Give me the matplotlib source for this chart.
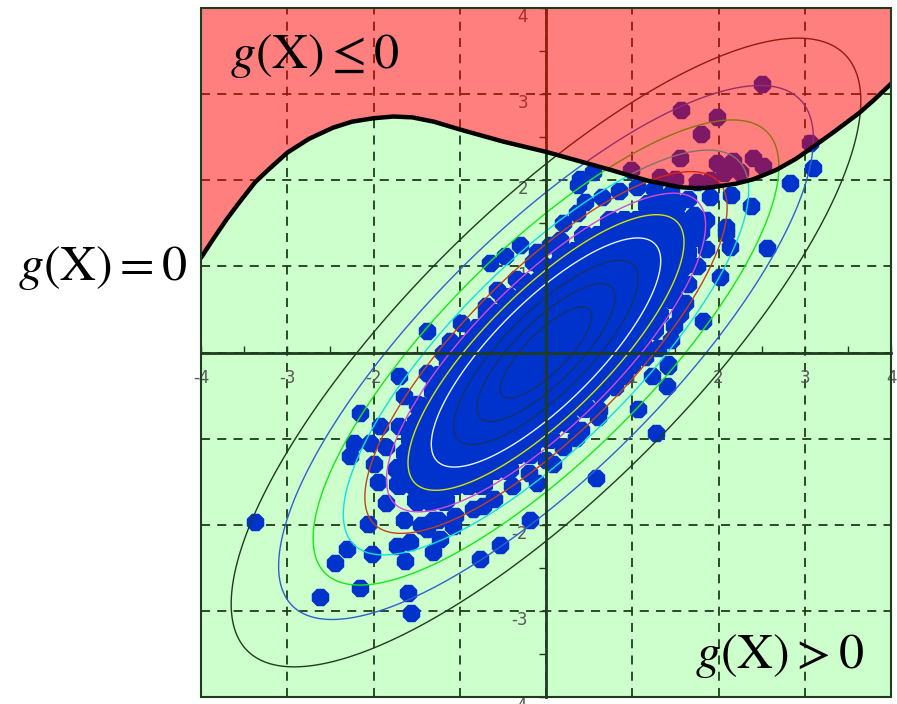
import numpy as np
import matplotlib
matplotlib.use('Agg')
import matplotlib.pyplot as plt
from matplotlib.patches import Rectangle

plt.rcParams['mathtext.fontset'] = 'stix'
plt.rcParams['axes.unicode_minus'] = False

# --- limit state curve g(X) = 0 ---
curve_x = [-4.0, -3.85, -3.7, -3.55, -3.37, -3.2, -3.0, -2.75, -2.47, -2.25, -2.0,
           -1.77, -1.55, -1.3, -1.0, -0.75, -0.5, -0.25, 0.0, 0.25, 0.5, 0.75,
           1.02, 1.2, 1.4, 1.55, 1.71, 1.85, 2.0, 2.2, 2.4, 2.67, 2.9, 3.1,
           3.35, 3.63, 3.8, 4.0]
curve_y = [1.10, 1.33, 1.55, 1.75, 1.98, 2.14, 2.32, 2.48, 2.61, 2.68, 2.72,
           2.74, 2.73, 2.68, 2.59, 2.52, 2.45, 2.39, 2.33, 2.26, 2.19, 2.12,
           2.04, 1.99, 1.95, 1.92, 1.91, 1.91, 1.93, 1.96, 2.01, 2.12, 2.25, 2.39,
           2.57, 2.78, 2.93, 3.12]

# --- density contours (correlated normal, levels as radius) ---
rho = 0.8
contour_r = [0.53, 0.8, 1.07, 1.33, 1.6, 1.85, 2.1, 2.35, 2.7, 3.1, 3.65]
contour_colors = ['#14306a', '#14306a', '#14306a', '#e8f4ff', '#d8e400', '#d848d8',
                  '#c8401c', '#10e0e0', '#18e818', '#3060d0', '#1e3c1e']

# --- sample points ---
# points in the failure region (top right)
pts_top = [(2.51, 3.12), (1.57, 2.82), (1.98, 2.74), (1.80, 2.54), (1.55, 2.26),
           (3.06, 2.43), (1.98, 2.20), (2.17, 2.22), (2.40, 2.26), (2.52, 2.16),
           (2.06, 2.08), (2.25, 2.10), (0.99, 2.12), (1.32, 2.04), (1.50, 2.02),
           (1.75, 1.98), (1.90, 2.00)]
# scattered points around the blob
pts_right = [(3.10, 2.14), (2.83, 1.97), (2.38, 1.70), (2.15, 1.83), (2.56, 1.21),
             (2.09, 1.39), (2.13, 1.23), (2.09, 1.46), (1.90, 1.81), (1.86, 1.54),
             (0.39, 2.01), (0.36, 1.62), (0.55, 2.09), (0.16, 1.31), (0.37, 1.95),
             (2.02, 0.88), (1.82, 0.36), (1.61, 0.58), (1.42, -0.16), (1.23, -0.27),
             (1.40, -0.39), (0.90, -0.27), (1.07, -0.66), (1.28, -0.93), (1.41, -0.13),
             (0.58, -1.46), (0.08, -1.29), (0.35, -0.99), (0.62, -0.67), (-0.19, -1.94),
             (-0.11, -1.51), (-0.73, -1.78), (1.48, 0.31)]
pts_left = [(-1.38, 0.25), (-0.98, 0.34), (-1.11, 0.13), (-0.65, 1.04), (-0.48, 1.12),
            (-0.30, 1.25), (-0.11, 1.17), (-0.69, 0.54), (-0.57, 0.73), (-1.19, 0.0),
            (-3.37, -1.97), (-2.62, -2.84), (-2.16, -2.73), (-1.60, -2.79), (-1.56, -3.02),
            (-2.45, -2.44), (-2.31, -2.28), (-2.02, -2.34), (-1.73, -2.25), (-1.63, -2.42),
            (-2.06, -1.99), (-1.58, -2.20), (-1.31, -2.32), (-2.16, -0.70), (-2.27, -1.20),
            (-2.23, -1.05), (-2.04, -1.05), (-1.71, -0.27), (-1.38, -0.24), (-1.65, -0.51),
            (-1.92, -0.85), (-1.38, -2.05), (-1.23, -2.17), (-0.77, -2.40), (-0.53, -2.23),
            (-1.08, -2.01), (-1.31, -1.94)]
# outer edge of the dense blob
blob_edge = [(0.20, 1.50), (0.45, 1.75), (0.65, 1.80), (0.85, 1.88), (1.05, 1.92),
             (1.25, 1.90), (1.45, 1.85), (1.65, 1.78), (1.72, 1.60), (1.80, 1.40),
             (1.85, 1.20), (1.75, 1.00), (1.65, 0.80), (1.55, 0.45), (1.45, 0.15),
             (1.30, 0.05), (1.15, -0.05), (1.00, -0.15), (0.80, -0.40), (0.60, -0.75),
             (0.40, -0.90), (0.20, -1.10), (0.00, -1.25), (-0.20, -1.40), (-0.40, -1.55),
             (-0.60, -1.70), (-0.85, -1.82), (-1.05, -1.90), (-1.25, -1.95), (-1.45, -2.00),
             (-1.65, -1.95), (-1.85, -1.75), (-1.95, -1.50), (-2.00, -1.30), (-1.85, -1.10),
             (-1.70, -0.85), (-1.50, -0.60), (-1.30, -0.35), (-1.15, -0.15), (-1.00, 0.05),
             (-0.85, 0.25), (-0.70, 0.45), (-0.50, 0.65), (-0.35, 0.85), (-0.15, 1.05),
             (0.05, 1.25)]
# dense core, row by row (y, x values)
blob_rows = [
    (1.71, [1.18, 1.34, 1.50]),
    (1.53, [0.74, 0.90, 1.06, 1.22, 1.38, 1.54, 1.70]),
    (1.35, [0.44, 0.60, 0.76, 0.92, 1.08, 1.24, 1.40, 1.56, 1.72]),
    (1.17, [0.18, 0.34, 0.50, 0.66, 0.82, 0.98, 1.14, 1.30, 1.46, 1.62]),
    (0.99, [-0.04, 0.12, 0.28, 0.44, 0.60, 0.76, 0.92, 1.08, 1.24, 1.40, 1.56]),
    (0.81, [-0.26, -0.10, 0.06, 0.22, 0.38, 0.54, 0.70, 0.86, 1.02, 1.18, 1.34, 1.50]),
    (0.63, [-0.44, -0.28, -0.12, 0.04, 0.20, 0.36, 0.52, 0.68, 0.84, 1.00, 1.16, 1.32, 1.46]),
    (0.45, [-0.62, -0.46, -0.30, -0.14, 0.02, 0.18, 0.34, 0.50, 0.66, 0.82, 0.98, 1.14, 1.30]),
    (0.27, [-0.80, -0.64, -0.48, -0.32, -0.16, 0.00, 0.16, 0.32, 0.48, 0.64, 0.80, 0.96,
            1.12, 1.24]),
    (0.09, [-0.94, -0.78, -0.62, -0.46, -0.30, -0.14, 0.02, 0.18, 0.34, 0.50, 0.66, 0.82,
            0.98, 1.10]),
    (-0.09, [-1.10, -0.98, -0.82, -0.66, -0.50, -0.34, -0.18, -0.02, 0.14, 0.30, 0.46,
             0.62, 0.78, 0.94]),
    (-0.27, [-1.24, -1.12, -0.96, -0.80, -0.64, -0.48, -0.32, -0.16, 0.00, 0.16, 0.32,
             0.48, 0.64, 0.80]),
    (-0.45, [-1.30, -1.14, -0.98, -0.82, -0.66, -0.50, -0.34, -0.18, -0.02, 0.14, 0.30,
             0.46, 0.62]),
    (-0.63, [-1.46, -1.32, -1.16, -1.00, -0.84, -0.68, -0.52, -0.36, -0.20, -0.04, 0.12,
             0.28, 0.44]),
    (-0.81, [-1.50, -1.34, -1.18, -1.02, -0.86, -0.70, -0.54, -0.38, -0.22, -0.06, 0.10,
             0.26]),
    (-0.99, [-1.56, -1.40, -1.24, -1.08, -0.92, -0.76, -0.60, -0.44, -0.28, -0.12, 0.04]),
    (-1.17, [-1.62, -1.46, -1.30, -1.14, -0.98, -0.82, -0.66, -0.50, -0.34, -0.18]),
    (-1.35, [-1.72, -1.56, -1.40, -1.24, -1.08, -0.92, -0.76, -0.60, -0.44]),
    (-1.53, [-1.70, -1.54, -1.38, -1.22, -1.06, -0.90, -0.74]),
    (-1.71, [-1.50, -1.34, -1.18]),
]

tick_vals = [-4, -3, -2, -1, 0, 1, 2, 3, 4]
minor_vals = [-3.5, -2.5, -1.5, -0.5, 0.5, 1.5, 2.5, 3.5]

# --- collect points ---
pts = pts_top + pts_right + pts_left + blob_edge
px = [p[0] for p in pts]
py = [p[1] for p in pts]
core_x, core_y = [], []
for yy, xs in blob_rows:
    core_x += xs
    core_y += [yy] * len(xs)

DARK = '#1e3c1e'
BLUE = '#0033cc'

fig = plt.figure(figsize=(8.97, 7.04), dpi=100)
ax = fig.add_axes([201 / 897, 7 / 704, 690 / 897, 689 / 704])
ax.set_xlim(-4, 4)
ax.set_ylim(-4, 4)
ax.set_facecolor('white')

# safe region below the curve
ax.fill_between(curve_x, -4, curve_y, color='#ccffcc', lw=0, zorder=0)

# dashed grid under the points (tick labels stay on top of them)
for v in tick_vals[1:-1]:
    ax.axvline(v, ls=(0, (5, 4)), color=DARK, lw=1.3, zorder=1)
    ax.axhline(v, ls=(0, (5, 4)), color=DARK, lw=1.3, zorder=1)

# the core overlaps so much it reads as one solid patch
ax.scatter(core_x, core_y, s=270, marker='8', color=BLUE, linewidths=0, zorder=2)
ax.scatter(px, py, s=185, marker='8', color=BLUE, linewidths=0, zorder=2)

gx = np.linspace(-4, 4, 500)
GX, GY = np.meshgrid(gx, gx)
R = np.sqrt((GX ** 2 - 2 * rho * GX * GY + GY ** 2) / (1 - rho ** 2))
ax.contour(GX, GY, R, levels=contour_r, colors=contour_colors, linewidths=1.0, zorder=3)

# failure region overlay
ax.fill_between(curve_x, curve_y, 4, color='red', alpha=0.5, lw=0, zorder=5)
ax.plot(curve_x, curve_y, color='black', lw=3.2, zorder=6, solid_capstyle='round',
        solid_joinstyle='round')

# axes through the origin
ax.spines['left'].set_position('zero')
ax.spines['bottom'].set_position('zero')
ax.spines['top'].set_visible(False)
ax.spines['right'].set_visible(False)
for s in ['left', 'bottom']:
    ax.spines[s].set_color(DARK)
    ax.spines[s].set_linewidth(2)
    ax.spines[s].set_zorder(3.5)

ax.set_xticks(tick_vals)
ax.set_yticks(tick_vals)
ax.set_xticks(minor_vals, minor=True)
ax.set_yticks(minor_vals, minor=True)
ax.tick_params(axis='x', which='both', direction='in', length=5, width=1, color=DARK,
               labelsize=12, labelcolor='#5a5a5a', pad=12)
ax.tick_params(axis='y', which='both', direction='out', length=5, width=1, color=DARK,
               labelsize=12, labelcolor='#5a5a5a', pad=8)
for lab in ax.get_yticklabels():
    lab.set_va('top')

ax.add_patch(Rectangle((0, 0), 1, 1, transform=ax.transAxes, fill=False,
                       edgecolor=DARK, lw=1.5, zorder=7, clip_on=False))

W, H = 897, 704
fig.text(230 / W, 1 - 68 / H, r'$g(\mathrm{X})\leq 0$', fontsize=36, va='baseline')
fig.text(18 / W, 1 - 280 / H, r'$g(\mathrm{X})=0$', fontsize=36, va='baseline')
fig.text(695 / W, 1 - 668 / H, r'$g(\mathrm{X})>0$', fontsize=36, va='baseline')

fig.savefig('out.png', dpi=100)
